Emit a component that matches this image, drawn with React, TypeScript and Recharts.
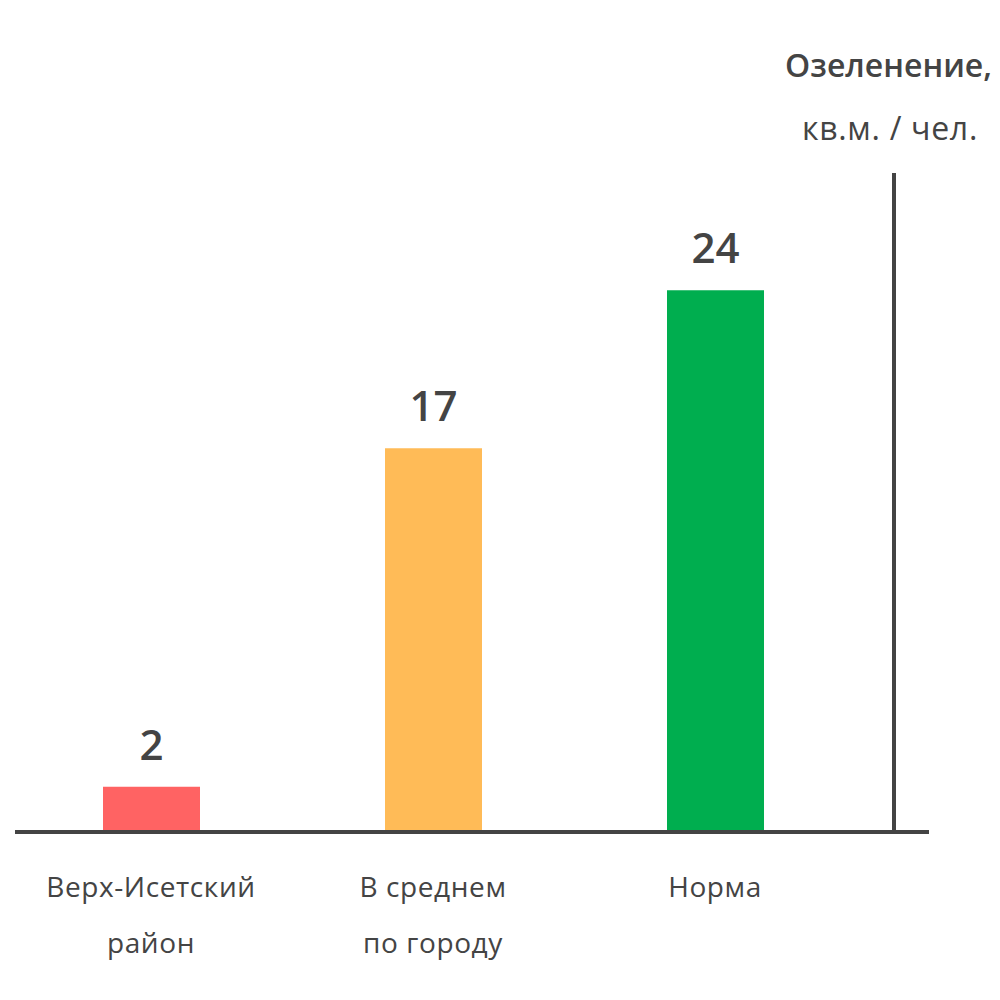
import { BarChart, Bar, XAxis, YAxis, Cell, LabelList } from 'recharts';

const categories = ['Верх-Исетский\nрайон', 'В среднем\nпо городу', 'Норма'];
const values = [2, 17, 24];
const barColors = ['#FF6363', '#FFBB57', '#00AE4F'];

const title = 'Озеленение,';
const unit = 'кв.м. / чел.';

const data = categories.map((name, i) => ({ name, value: values[i] }));

const FONT = '"Open Sans", "DejaVu Sans", sans-serif';
const INK = '#444444';

function CategoryTick({ x, y, payload }: any) {
  const lines = String(payload.value).split('\n');
  return (
    <text
      x={x}
      y={y}
      textAnchor="middle"
      fill={INK}
      fontSize={28}
      letterSpacing={0.6}
      fontFamily={FONT}
    >
      {lines.map((line, i) => (
        <tspan key={i} x={x} dy={i === 0 ? 65 : 56}>
          {line}
        </tspan>
      ))}
    </text>
  );
}

export default function App() {
  return (
    <div style={{ position: 'absolute', left: 0, top: 0, width: 1000, height: 1000, background: '#fff' }}>
      <div
        style={{
          position: 'absolute',
          right: 8,
          top: 49,
          fontFamily: FONT,
          fontSize: 32,
          lineHeight: '32px',
          fontWeight: 600,
          color: INK,
          whiteSpace: 'nowrap',
        }}
      >
        {title}
      </div>
      <div
        style={{
          position: 'absolute',
          right: 22,
          top: 112,
          fontFamily: FONT,
          fontSize: 32,
          lineHeight: '32px',
          letterSpacing: 0.7,
          color: INK,
          whiteSpace: 'nowrap',
        }}
      >
        {unit}
      </div>
      <BarChart
        width={1000}
        height={1000}
        data={data}
        margin={{ top: 173, right: 71, left: 15, bottom: 28 }}
        barCategoryGap={0}
      >
        <XAxis
          dataKey="name"
          height={140}
          padding={{ left: -5, right: 38 }}
          axisLine={{ stroke: INK, strokeWidth: 4 }}
          tickLine={false}
          tickSize={0}
          tickMargin={0}
          interval={0}
          tick={<CategoryTick />}
        />
        <YAxis
          orientation="right"
          width={35}
          domain={[0, 29.2]}
          ticks={[0]}
          tickSize={35}
          axisLine={{ stroke: INK, strokeWidth: 4 }}
          tickLine={{ stroke: INK, strokeWidth: 4 }}
          tickFormatter={() => ''}
        />
        <Bar dataKey="value" barSize={97} isAnimationActive={false}>
          {data.map((d, i) => (
            <Cell key={d.name} fill={barColors[i]} />
          ))}
          <LabelList
            dataKey="value"
            position="top"
            offset={27}
            fill={INK}
            fontSize={42}
            fontWeight={600}
            fontFamily={FONT}
          />
        </Bar>
      </BarChart>
    </div>
  );
}
